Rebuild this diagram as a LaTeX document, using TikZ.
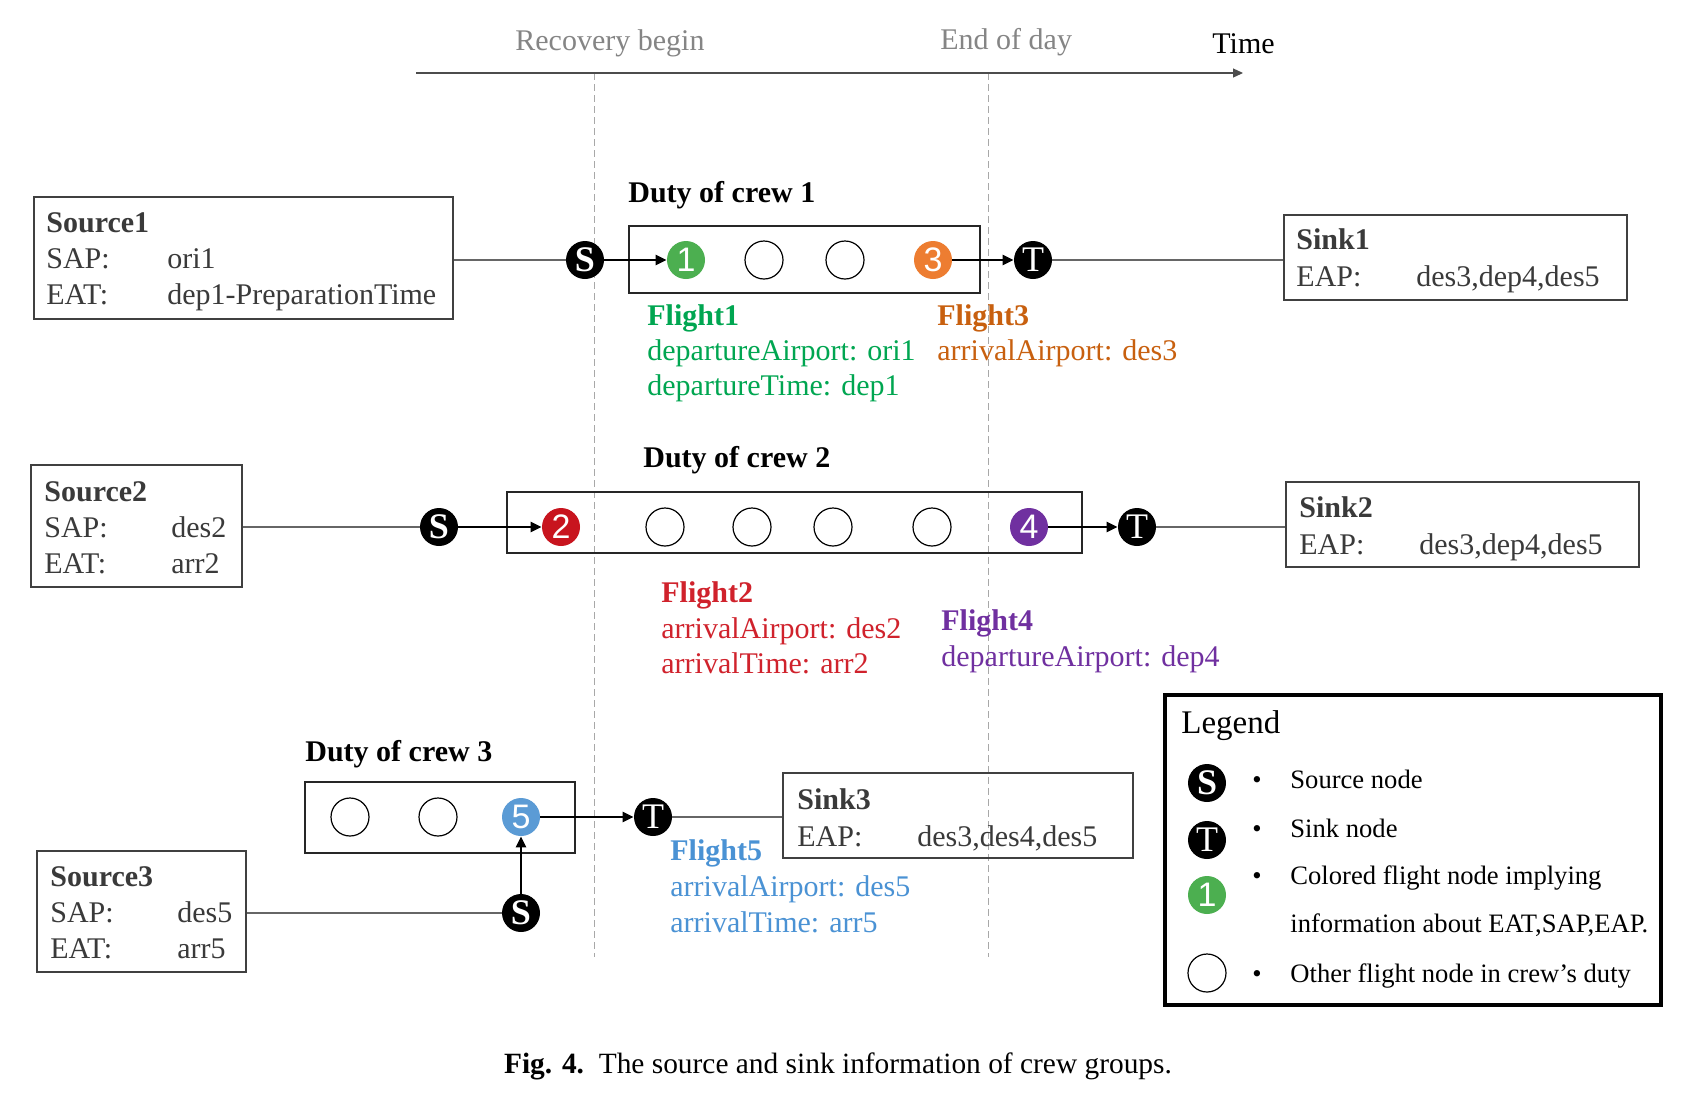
\documentclass[tikz,border=0pt]{standalone}
\usepackage{fontspec}
\setmainfont{Liberation Serif}
\newfontfamily\digitfont{Liberation Sans}
\usetikzlibrary{arrows.meta}
\definecolor{boxtext}{HTML}{3A3A3A}
\definecolor{boxline}{HTML}{404040}
\definecolor{axisgray}{HTML}{858585}
\definecolor{dashgray}{HTML}{A8A8A8}
\definecolor{cgreen}{HTML}{4CAF50}
\definecolor{tgreen}{HTML}{00A651}
\definecolor{corange}{HTML}{ED7D31}
\definecolor{torange}{HTML}{C8600F}
\definecolor{cred}{HTML}{C8141E}
\definecolor{tred}{HTML}{D0222C}
\definecolor{cpurple}{HTML}{7030A0}
\definecolor{cblue}{HTML}{5B9BD5}
\definecolor{tblue}{HTML}{4A92D4}
\begin{document}
\begin{tikzpicture}[x=0.5pt,y=-0.5pt,
  txt/.style={anchor=base west, inner sep=0pt, font=\fontsize{15}{18}\selectfont, text=boxtext},
  ttl/.style={txt, font=\fontsize{15}{18}\selectfont\bfseries},
  dutylbl/.style={txt, font=\fontsize{15}{18}\selectfont\bfseries, text=black},
  fltitle/.style={txt, font=\fontsize{15}{18}\selectfont\bfseries},
  legtxt/.style={anchor=base west, inner sep=0pt, font=\fontsize{13.3}{16}\selectfont, text=black},
  infobox/.style={draw=boxline, line width=0.8pt, inner sep=0pt},
  dutybox/.style={draw=black!85, line width=0.9pt, inner sep=0pt},
  flnode/.style={circle, inner sep=0pt, minimum size=19pt, text=white, font=\digitfont\fontsize{17}{17}\selectfont},
  opennode/.style={circle, draw=black, line width=0.6pt, inner sep=0pt, minimum size=19pt},
  snode/.style={circle, fill=black, inner sep=0pt, minimum size=19pt, text=white, font=\fontsize{18}{18}\selectfont\bfseries},
  tnode/.style={circle, fill=black, inner sep=0pt, minimum size=19pt, text=white, font=\fontsize{18}{18}\selectfont},
  flow/.style={draw=black, line width=1.2pt, -{Triangle[length=5.5pt,width=5pt]}},
  thinline/.style={draw=black!60, line width=0.55pt},
  dashline/.style={draw=dashgray, line width=0.5pt, dash pattern=on 3.5pt off 2pt},
  axisline/.style={draw=black!70, line width=0.6pt, -{Triangle[length=5pt,width=4.5pt]}},
  axislbl/.style={anchor=base west, inner sep=0pt, font=\fontsize{15}{18}\selectfont, text=axisgray}
]
\path[use as bounding box, fill=white] (0,0) rectangle (1696,1094);

% time axis and dashed markers
\coordinate (tA) at (416,73);
\coordinate (tB) at (1243,73);
\coordinate (d1a) at (594,73);
\coordinate (d1b) at (594,957);
\coordinate (d2a) at (988,73);
\coordinate (d2b) at (988,957);
\draw[dashline] (d1a) -- (d1b);
\draw[dashline] (d2a) -- (d2b);
\draw[axisline] (tA) -- (tB);
\node[axislbl] (lrec) at (515,50) {Recovery begin};
\node[axislbl] (lend) at (940,49) {End of day};
\node[axislbl, text=black] (ltime) at (1212,53) {Time};

% ---------- Row 1 ----------
\node[infobox, minimum width=209.5pt, minimum height=61pt] (src1) at (243.5,258) {};
\node[ttl] (src1t) at (46,232) {Source1};
\node[txt] (src1a) at (46,268) {SAP:};
\node[txt] (src1av) at (167,268) {ori1};
\node[txt] (src1b) at (46,304) {EAT:};
\node[txt] (src1bv) at (167,304) {dep1-PreparationTime};

\node[snode] (S1) at (585,260) {S};
\node[dutybox, minimum width=175.5pt, minimum height=33.5pt] (duty1) at (804.5,259.5) {};
\node[dutylbl] (duty1l) at (628,202) {Duty of crew 1};
\node[flnode, fill=cgreen] (f1) at (686,260) {1};
\node[opennode] (o11) at (764,260) {};
\node[opennode] (o12) at (845,260) {};
\node[flnode, fill=corange] (f3) at (933,260) {3};
\node[tnode] (T1) at (1033,260) {T};

\node[infobox, minimum width=171.5pt, minimum height=42.5pt] (sink1) at (1455.5,257.5) {};
\node[ttl] (sink1t) at (1296,249) {Sink1};
\node[txt] (sink1a) at (1296,286) {EAP:};
\node[txt] (sink1av) at (1416,286) {des3,dep4,des5};

\node[fltitle, text=tgreen] (fl1t) at (647,325) {Flight1};
\node[txt, text=tgreen] (fl1a) at (647,360) {departureAirport: ori1};
\node[txt, text=tgreen] (fl1b) at (647,395) {departureTime: dep1};
\node[fltitle, text=torange] (fl3t) at (937,325) {Flight3};
\node[txt, text=torange] (fl3a) at (937,360) {arrivalAirport: des3};

\draw[thinline] (src1.east |- S1) -- (S1);
\draw[flow] (S1) -- (f1);
\draw[flow] (f3) -- (T1);
\draw[thinline] (T1) -- (T1 -| sink1.west);

% ---------- Row 2 ----------
\node[infobox, minimum width=105.5pt, minimum height=61pt] (src2) at (136.5,526) {};
\node[ttl] (src2t) at (44,501) {Source2};
\node[txt] (src2a) at (44,537) {SAP:};
\node[txt] (src2av) at (171,537) {des2};
\node[txt] (src2b) at (44,573) {EAT:};
\node[txt] (src2bv) at (171,573) {arr2};

\node[snode] (S2) at (439,527) {S};
\node[dutybox, minimum width=287.5pt, minimum height=30.5pt] (duty2) at (794.5,522.5) {};
\node[dutylbl] (duty2l) at (643,467) {Duty of crew 2};
\node[flnode, fill=cred] (f2) at (561,527) {2};
\node[opennode] (o21) at (665,527) {};
\node[opennode] (o22) at (752,527) {};
\node[opennode] (o23) at (833,527) {};
\node[opennode] (o24) at (932,527) {};
\node[flnode, fill=cpurple] (f4) at (1029,527) {4};
\node[tnode] (T2) at (1137,527) {T};

\node[infobox, minimum width=176.5pt, minimum height=42.5pt] (sink2) at (1462.5,524.5) {};
\node[ttl] (sink2t) at (1299,517) {Sink2};
\node[txt] (sink2a) at (1299,554) {EAP:};
\node[txt] (sink2av) at (1419,554) {des3,dep4,des5};

\node[fltitle, text=tred] (fl2t) at (661,602) {Flight2};
\node[txt, text=tred] (fl2a) at (661,638) {arrivalAirport: des2};
\node[txt, text=tred] (fl2b) at (661,673) {arrivalTime: arr2};
\node[fltitle, text=cpurple] (fl4t) at (941,630) {Flight4};
\node[txt, text=cpurple] (fl4a) at (941,666) {departureAirport: dep4};

\draw[thinline] (src2.east |- S2) -- (S2);
\draw[flow] (S2) -- (f2);
\draw[flow] (f4) -- (T2);
\draw[thinline] (T2) -- (T2 -| sink2.west);

% ---------- Row 3 ----------
\node[dutybox, minimum width=135pt, minimum height=35.5pt] (duty3) at (440,817.5) {};
\node[dutylbl] (duty3l) at (305,761) {Duty of crew 3};
\node[opennode] (o31) at (350,817) {};
\node[opennode] (o32) at (438,817) {};
\node[flnode, fill=cblue] (f5) at (521,817) {5};
\node[tnode] (T3) at (653,817) {T};

\node[infobox, minimum width=175pt, minimum height=42.5pt] (sink3) at (958,815.5) {};
\node[ttl] (sink3t) at (797,809) {Sink3};
\node[txt] (sink3a) at (797,846) {EAP:};
\node[txt] (sink3av) at (917,846) {des3,des4,des5};

\node[snode] (S3) at (521,913) {S};
\node[infobox, minimum width=104.5pt, minimum height=60.5pt] (src3) at (141.5,911.5) {};
\node[ttl] (src3t) at (50,886) {Source3};
\node[txt] (src3a) at (50,922) {SAP:};
\node[txt] (src3av) at (177,922) {des5};
\node[txt] (src3b) at (50,958) {EAT:};
\node[txt] (src3bv) at (177,958) {arr5};

\node[fltitle, text=tblue] (fl5t) at (670,860) {Flight5};
\node[txt, text=tblue] (fl5a) at (670,896) {arrivalAirport: des5};
\node[txt, text=tblue] (fl5b) at (670,932) {arrivalTime: arr5};

\draw[flow] (f5) -- (T3);
\draw[thinline] (T3) -- (T3 -| sink3.west);
\draw[thinline] (src3.east |- S3) -- (S3);
\draw[flow] (S3) -- (f5);

% ---------- Legend ----------
\node[draw=black, line width=2pt, inner sep=0pt, minimum width=248pt, minimum height=155pt] (leg) at (1413,850) {};
\node[anchor=base west, inner sep=0pt, font=\fontsize{16.5}{18}\selectfont] (legt) at (1181,733) {Legend};
\node[snode] (lS) at (1207,783) {S};
\node[tnode] (lT) at (1207,840) {T};
\node[flnode, fill=cgreen] (l1) at (1207,895) {1};
\node[opennode] (lo) at (1207,973) {};
\node[legtxt] (b1) at (1252,788) {\textbullet};
\node[legtxt] (b2) at (1252,837) {\textbullet};
\node[legtxt] (b3) at (1252,884) {\textbullet};
\node[legtxt] (b4) at (1252,982) {\textbullet};
\node[legtxt] (lt1) at (1290,788) {Source node};
\node[legtxt] (lt2) at (1290,837) {Sink node};
\node[legtxt] (lt3) at (1290,884) {Colored flight node implying};
\node[legtxt] (lt4) at (1290,932) {information about EAT,SAP,EAP.};
\node[legtxt] (lt5) at (1290,982) {Other flight node in crew’s duty};

% ---------- Caption ----------
\node[anchor=base, inner sep=0pt, font=\fontsize{14.7}{16}\selectfont] (cap) at (838,1073) {\textbf{Fig. 4.}\ \ The source and sink information of crew groups.};
\end{tikzpicture}
\end{document}
